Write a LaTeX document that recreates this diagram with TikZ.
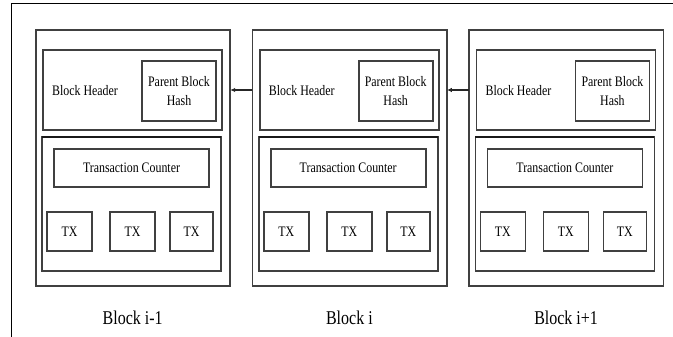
\documentclass[tikz,border=0pt]{standalone}
\usepackage{fontspec}
\setmainfont{Liberation Serif}[FakeStretch=0.82]
\usetikzlibrary{arrows.meta}
\tikzset{
  bx/.style={draw=black!75, line width=1.6pt, rectangle, inner sep=0pt, outer sep=0pt,
             anchor=north west, align=center, font=\fontsize{14.5}{18.5}\selectfont},
  txt/.style={inner sep=0pt, font=\fontsize{14.5}{18.5}\selectfont},
  lbl/.style={inner sep=0pt, font=\fontsize{19.5}{22}\selectfont},
  arr/.style={-{Latex[length=5pt,width=4.5pt]}, line width=1.6pt, black!85},
  frame/.style={line width=1.4pt, black},
  topedge/.style={line width=2pt, black!90}
}
\begin{document}
\begin{tikzpicture}[x=1pt,y=-1pt]
\useasboundingbox (0,0) rectangle (673,337);
\draw[frame] (11.5,337) -- (11.5,3.5) -- (673,3.5);
\foreach \k/\lab in {0/{Block i-1},1/{Block i},2/{Block i+1}} {
  \pgfmathsetmacro\ox{35.7+\k*216.7}
  \node[bx, minimum width=194.5pt, minimum height=256pt] (B\k) at (\ox,30) {};
  \node[bx, minimum width=179pt, minimum height=80pt] (H\k) at (\ox+7.3,50) {};
  \node[bx, minimum width=74pt, minimum height=60pt] (P\k) at (\ox+106.3,61) {};
  \node[txt, align=center] (PT\k) at (P\k.center) {Parent Block\\Hash};
  \node[txt, anchor=west] (HT\k) at (\ox+16.3,91) {Block Header};
  \node[bx, minimum width=179pt, minimum height=134pt] (D\k) at (\ox+6.3,137) {};
  \draw[topedge] (D\k.north west) -- (D\k.north east);
  \node[bx, minimum width=155pt, minimum height=38pt] (C\k) at (\ox+18.3,149) {};
  \node[txt] (CT\k) at (C\k.center) {Transaction Counter};
  \node[bx, minimum width=45pt, minimum height=39pt] (Ta\k) at (\ox+11.3,212) {};
  \node[txt] at (Ta\k.center) {TX};
  \node[bx, minimum width=45pt, minimum height=39pt] (Tb\k) at (\ox+74.3,212) {};
  \node[txt] at (Tb\k.center) {TX};
  \node[bx, minimum width=43pt, minimum height=39pt] (Tc\k) at (\ox+134.3,212) {};
  \node[txt] at (Tc\k.center) {TX};
  \node[lbl] (L\k) at (\ox+97,318) {\lab};
}
\draw[arr] (H1.west -| B1.west) -- (H0.west -| B0.east);
\draw[arr] (H2.west -| B2.west) -- (H1.west -| B1.east);
\end{tikzpicture}
\end{document}
